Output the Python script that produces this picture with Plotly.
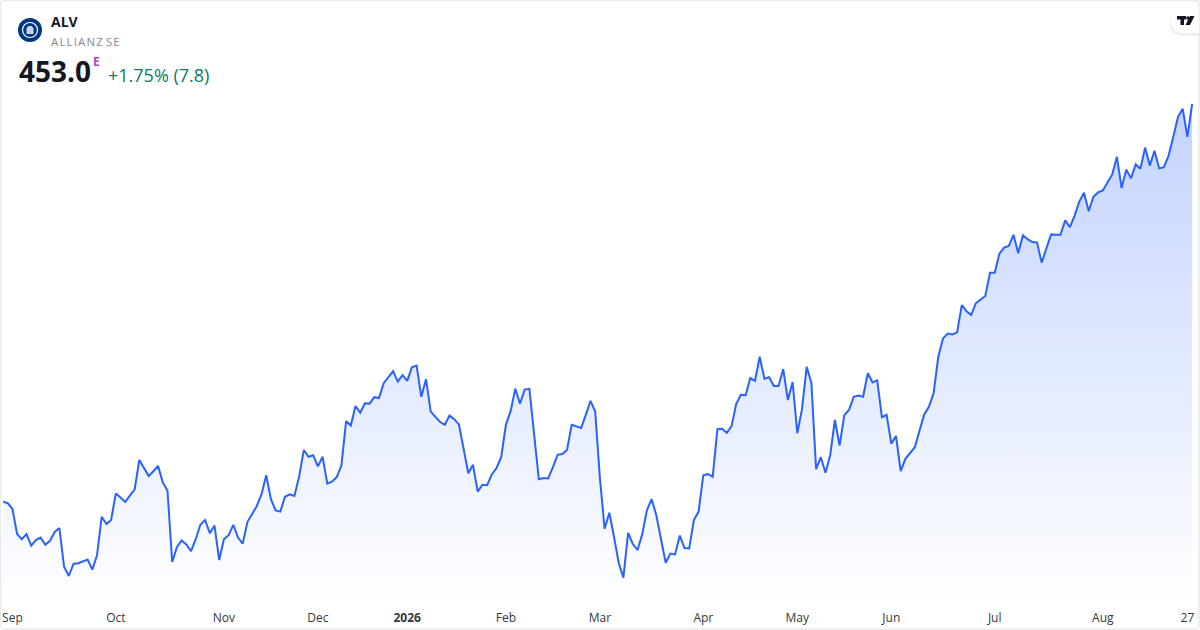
"""
ALV daily close, one year, redrawn in the TradingView snapshot look
"""
import pandas as pd
import plotly.graph_objects as go

W, H = 1200, 630
AXIS_H = 30

# Xetra closed days inside the window
holidays = ["2025-12-24", "2025-12-25", "2025-12-26", "2025-12-31", "2026-01-01",
            "2026-04-03", "2026-04-06", "2026-05-01"]

closes = [
    353.6, 353.2, 351.8, 345.5, 344.2, 345.5, 342.6, 344.0, 344.6, 342.8,
    343.8, 346.0, 347.0, 337.3, 335.0, 338.0, 338.2, 338.6, 339.1, 336.6,
    340.2, 349.8, 348.0, 349.0, 355.6, 354.6, 353.5, 355.1, 356.6, 364.0,
    361.9, 360.0, 361.2, 362.5, 358.4, 356.3, 338.5, 342.2, 343.9, 342.9,
    341.2, 344.2, 347.8, 349.0, 345.7, 347.6, 339.0, 344.2, 345.2, 347.8,
    344.6, 343.1, 348.5, 350.5, 352.5, 355.4, 360.2, 354.2, 351.4, 351.1,
    354.8, 355.4, 355.0, 359.8, 366.5, 364.8, 365.2, 362.4, 364.8, 358.1,
    358.6, 359.7, 362.6, 373.7, 372.6, 377.5, 375.8, 378.2, 378.1, 379.7,
    379.5, 383.2, 384.8, 386.2, 383.6, 385.2, 383.8, 387.2, 387.6, 379.8,
    384.2, 376.1, 374.8, 373.5, 372.8, 375.1, 374.2, 372.9, 366.8, 360.7,
    362.8, 356.1, 357.8, 357.7, 360.4, 362.0, 364.7, 372.8, 376.2, 381.8,
    378.1, 381.6, 381.8, 370.7, 359.2, 359.5, 359.4, 362.2, 365.3, 365.5,
    366.5, 372.8, 372.4, 372.0, 375.3, 378.8, 376.1, 359.5, 346.8, 350.8,
    344.8, 338.3, 334.6, 345.8, 343.0, 341.5, 345.4, 351.4, 354.2, 350.2,
    344.2, 338.3, 340.6, 340.4, 345.1, 342.0, 341.9, 349.0, 351.1, 360.2,
    360.5, 359.8, 371.7, 371.8, 370.8, 372.4, 378.0, 380.3, 380.2, 384.5,
    383.8, 389.8, 384.3, 384.7, 382.5, 382.5, 386.7, 379.0, 383.5, 370.7,
    376.7, 387.3, 383.2, 361.7, 364.7, 360.8, 365.2, 374.0, 367.6, 375.2,
    376.5, 379.8, 380.1, 379.8, 385.7, 383.4, 383.9, 374.7, 375.3, 368.1,
    370.0, 361.2, 364.3, 365.9, 367.2, 371.3, 375.4, 377.3, 380.7, 389.8,
    394.4, 395.6, 395.4, 395.9, 402.7, 401.2, 400.3, 403.2, 404.2, 405.0,
    410.8, 410.8, 415.6, 417.1, 417.5, 420.3, 415.7, 420.2, 419.2, 418.5,
    418.4, 413.3, 416.9, 420.4, 420.3, 420.3, 423.9, 422.2, 425.1, 428.6,
    430.8, 426.2, 429.8, 430.9, 431.4, 433.3, 435.4, 439.8, 432.0, 436.6,
    434.4, 437.9, 436.8, 442.1, 437.6, 441.3, 436.9, 437.2, 440.1, 444.8,
    449.8, 451.8, 444.8, 453.0,
]

tick_dates = ["2025-09-01", "2025-10-01", "2025-11-03", "2025-12-01", "2026-01-02",
              "2026-02-02", "2026-03-02", "2026-04-01", "2026-05-04", "2026-06-01",
              "2026-07-01", "2026-08-03", "2026-08-27"]
tick_labels = ["Sep", "Oct", "Nov", "Dec", "<b>2026</b>", "Feb", "Mar", "Apr", "May", "Jun",
               "Jul", "Aug", "27"]

dates = pd.bdate_range("2025-08-28", "2026-08-28").strftime("%Y-%m-%d")
dates = [d for d in dates if d not in holidays]

FLOOR = 329.0
PEAK = 479.0
BAR_W = 4.7
FIRST_X = 3


def px(x):
    return x / W


def py(y):
    # paper coords span the plot area only, the axis strip sits below 0
    return 1 - y / (H - AXIS_H)


def pt(x, y):
    return f"{px(x):.5f},{py(y):.5f}"


def box(x0, y0, x1, y1, **kw):
    return dict(type="rect", xref="paper", yref="paper", x0=px(x0), x1=px(x1),
                y0=py(y1), y1=py(y0), line_width=0, **kw)


def circle(cx, cy, r, **kw):
    return dict(type="circle", xref="paper", yref="paper", x0=px(cx - r), x1=px(cx + r),
                y0=py(cy + r), y1=py(cy - r), **kw)


def poly(points, **kw):
    path = "M " + " L ".join(pt(x, y) for x, y in points) + " Z"
    return dict(type="path", xref="paper", yref="paper", path=path, line_width=0, **kw)


def rounded(x0, y0, x1, y1, r, corners="all", **kw):
    # corners="left" leaves the right side square, for the badge against the frame
    rr = r if corners == "all" else 0
    path = (f"M {pt(x0 + r, y0)} L {pt(x1 - rr, y0)} Q {pt(x1, y0)} {pt(x1, y0 + rr)} "
            f"L {pt(x1, y1 - rr)} Q {pt(x1, y1)} {pt(x1 - rr, y1)} L {pt(x0 + r, y1)} "
            f"Q {pt(x0, y1)} {pt(x0, y1 - r)} L {pt(x0, y0 + r)} Q {pt(x0, y0)} {pt(x0 + r, y0)} Z")
    return dict(type="path", xref="paper", yref="paper", path=path, layer="above", **kw)


def label(text, x, y, size, color, family="Open Sans"):
    return dict(text=text, xref="paper", yref="paper", x=px(x), y=py(y), xanchor="left",
                yanchor="middle", showarrow=False, align="left", borderpad=0,
                font=dict(size=size, color=color, family=family))


fig = go.Figure()
fig.add_trace(go.Scatter(x=dates, y=[FLOOR] * len(dates), mode="lines",
                         line=dict(width=0), hoverinfo="skip", showlegend=False))
fig.add_trace(go.Scatter(
    x=dates, y=closes, mode="lines", fill="tonexty",
    line=dict(color="#2962ff", width=2, shape="linear"),
    fillgradient=dict(type="vertical", start=FLOOR, stop=453.0,
                      colorscale=[[0, "rgba(41,98,255,0.004)"], [1, "rgba(41,98,255,0.28)"]]),
    hoverinfo="skip", showlegend=False,
))

shapes = [
    # frame
    rounded(0.5, 0.5, W - 1, H - 1, 4, fillcolor="rgba(0,0,0,0)",
            line=dict(color="#e9eaed", width=1.5)),
    # logo
    circle(30, 30, 12, fillcolor="#003781", line_width=0, layer="above"),
    circle(30, 30, 7.5, fillcolor="rgba(0,0,0,0)", line=dict(color="#ffffff", width=1.2), layer="above"),
    poly([(26.5, 34), (26.5, 28), (28.5, 26), (31.5, 26), (33.5, 28), (33.5, 34)],
         fillcolor="#c9d3e6", layer="above"),
    # tradingview badge, soft shadow built from stacked pills
    rounded(1169, 11, W - 1, 37, 13, corners="left", fillcolor="rgba(0,0,0,0.015)", line_width=0),
    rounded(1170, 11, W - 1, 36, 12.5, corners="left", fillcolor="rgba(0,0,0,0.025)", line_width=0),
    rounded(1170.5, 11, W - 1, 35, 12, corners="left", fillcolor="rgba(0,0,0,0.03)", line_width=0),
    rounded(1171, 10, W - 1, 33, 11.5, corners="left", fillcolor="#ffffff", line_width=0),
    box(1177, 16, 1186, 19.5, fillcolor="#131722", layer="above"),
    box(1180.5, 16, 1184, 25, fillcolor="#131722", layer="above"),
    circle(1188, 18, 1.8, fillcolor="#131722", line_width=0, layer="above"),
    poly([(1190, 16), (1194.5, 16), (1190, 25), (1185.5, 25)], fillcolor="#131722", layer="above"),
]

annotations = [
    label("<b>ALV</b>", 50, 21, 14, "#131722"),
    label("A L L I A N Z  S E".replace(" ", "\u200a").replace("\u200a\u200a", " "), 50, 41, 11.5, "#868993"),
    label("<b>453.0</b>", 18, 71, 28, "#131722"),
    label("<b>E</b>", 92, 62, 12, "#ab47bc"),
    label("+1.75% (7.8)", 107, 75, 18, "#077d66"),
]

fig.update_layout(
    width=W, height=H,
    margin=dict(l=0, r=0, t=0, b=AXIS_H),
    paper_bgcolor="#ffffff", plot_bgcolor="#ffffff",
    shapes=shapes, annotations=annotations,
    showlegend=False,
    xaxis=dict(type="category", range=[-FIRST_X / BAR_W, (W - FIRST_X) / BAR_W],
               showgrid=False, zeroline=False, showline=False, ticks="",
               tickmode="array", tickvals=tick_dates, ticktext=tick_labels,
               tickangle=0, ticklabelstandoff=9,
               tickfont=dict(family="Open Sans", size=12, color="#333740")),
    yaxis=dict(range=[FLOOR, PEAK], showgrid=False, zeroline=False, showline=False,
               showticklabels=False, ticks=""),
)

# page default margin would push the 1200x630 figure off the window
fig.write_html("out.html", config=dict(displayModeBar=False),
               post_script="document.body.style.margin='0';document.body.style.overflow='hidden';")
